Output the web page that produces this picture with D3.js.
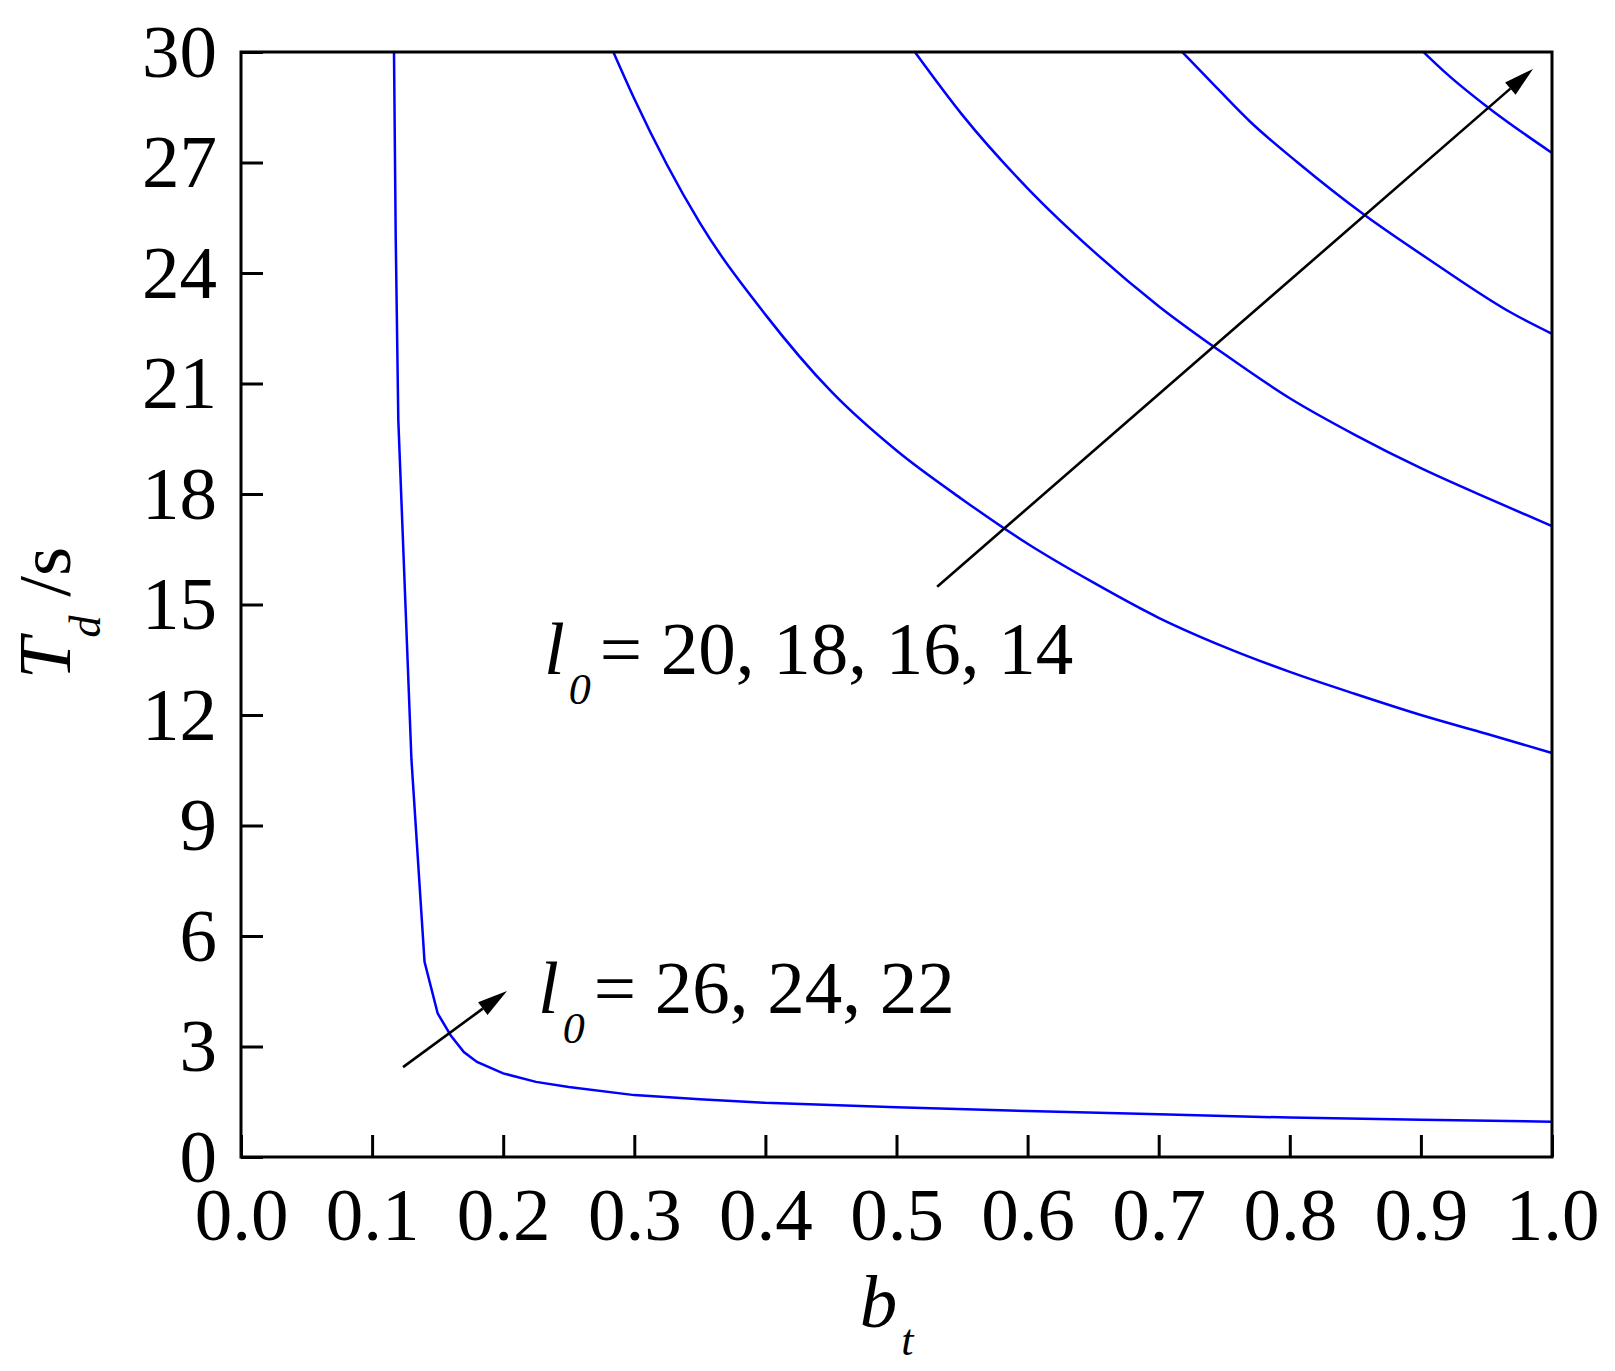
<!DOCTYPE html>
<meta charset="utf-8">
<style>
body { margin: 0; background: #fff; }
text { font-family: "Liberation Serif", "Times New Roman", serif; fill: #000; }
.axis text { font-size: 75px; }
.axis line { stroke: #000; stroke-width: 3px; }
.axis path { display: none; }
.frame { fill: none; stroke: #000; stroke-width: 3px; }
.curve { fill: none; stroke: #0000ff; stroke-width: 2.5px; }
.arrow { stroke: #000; stroke-width: 2.6px; fill: none; }
</style>
<body>
<script src="https://d3js.org/d3.v7.min.js"></script>
<script>

// values: [b_t, T_d]
var l0_26_24_22 = [[0.1167,30],[0.118,25],[0.120,20],[0.130,10.8],[0.140,5.3],[0.150,3.9],[0.160,3.3],
  [0.170,2.85],[0.180,2.58],[0.200,2.27],[0.225,2.04],[0.25,1.9],[0.30,1.68],[0.35,1.57],[0.40,1.47],
  [0.50,1.35],[0.60,1.25],[0.70,1.16],[0.80,1.07],[0.90,1.01],[1.0,0.96]];
var l0_20 = [[0.284,30],[0.30,28.73],[0.35,25.36],[0.40,22.87],[0.45,20.79],[0.50,19.18],[0.55,17.86],
  [0.60,16.65],[0.65,15.6],[0.70,14.64],[0.75,13.85],[0.80,13.17],[0.85,12.57],[0.90,12.0],[0.95,11.49],[1.0,10.97]];
var l0_18 = [[0.514,30],[0.55,28.3],[0.60,26.3],[0.65,24.6],[0.70,23.1],[0.75,21.8],[0.80,20.6],
  [0.85,19.6],[0.90,18.7],[0.95,17.9],[1.0,17.13]];
var l0_16 = [[0.718,30],[0.737,29.3],[0.770,28.1],[0.806,27.0],[0.856,25.6],[0.909,24.3],[0.970,22.9],[1.0,22.35]];
var l0_14 = [[0.902,30],[0.920,29.4],[0.951,28.5],[1.0,27.26]];

var xTicks = d3.range(0, 11).map(function(i) { return i / 10; });
var yTicks = d3.range(0, 31, 3);

// annotation arrows and labels, in data units
var arrowBig = [[0.531,15.48],[0.9855,29.54]];
var arrowSmall = [[0.1236,2.44],[0.2029,4.51]];
var labelLow = { b: 0.2265, T: 3.9, text: "= 26, 24, 22" };
var labelHigh = { b: 0.2311, T: 13.1, text: "= 20, 18, 16, 14" };

var width = 1615, height = 1371;
var margin = { left: 241, right: 63, top: 52, bottom: 214 };

var x = d3.scaleLinear().domain([0, 1]).range([margin.left, width - margin.right]);
var y = d3.scaleLinear().domain([0, 30]).range([height - margin.bottom, margin.top]);

var svg = d3.select("body").append("svg")
    .attr("width", width)
    .attr("height", height);

svg.append("defs").append("marker")
    .attr("id", "head")
    .attr("markerUnits", "userSpaceOnUse")
    .attr("markerWidth", 40).attr("markerHeight", 40)
    .attr("viewBox", "-2 -20 40 40")
    .attr("refX", 0).attr("refY", 0)
    .attr("orient", "auto")
  .append("path")
    .attr("d", "M0,-8L30,0L0,8Z")
    .attr("fill", "#000");

svg.append("g")
    .attr("class", "axis")
    .attr("transform", "translate(0," + y(0) + ")")
    .call(d3.axisBottom(x).tickValues(xTicks).tickFormat(d3.format(".1f"))
      .tickSizeInner(-22).tickSizeOuter(0).tickPadding(30));

svg.append("g")
    .attr("class", "axis")
    .attr("transform", "translate(" + x(0) + ",0)")
    .call(d3.axisLeft(y).tickValues(yTicks).tickFormat(d3.format("d"))
      .tickSizeInner(-22).tickSizeOuter(0).tickPadding(24));

var line = d3.line()
    .x(function(d) { return x(d[0]); })
    .y(function(d) { return y(d[1]); });

var smooth = d3.line()
    .curve(d3.curveMonotoneX)
    .x(function(d) { return x(d[0]); })
    .y(function(d) { return y(d[1]); });

svg.append("path")
    .datum(l0_26_24_22)
    .attr("class", "curve")
    .attr("d", line);

svg.append("g")
  .selectAll("path")
  .data([l0_20, l0_18, l0_16, l0_14])
  .enter().append("path")
    .attr("class", "curve")
    .attr("d", smooth);

svg.append("rect")
    .attr("class", "frame")
    .attr("x", x(0)).attr("y", y(30))
    .attr("width", x(1) - x(0))
    .attr("height", y(0) - y(30));

// arrows: shorten the shaft so the head sits on the end
[arrowBig, arrowSmall].forEach(function(a) {
  var x1 = x(a[0][0]), y1 = y(a[0][1]), x2 = x(a[1][0]), y2 = y(a[1][1]);
  var len = Math.hypot(x2 - x1, y2 - y1);
  var k = (len - 30) / len;
  svg.append("line")
      .attr("class", "arrow")
      .attr("x1", x1).attr("y1", y1)
      .attr("x2", x1 + (x2 - x1) * k).attr("y2", y1 + (y2 - y1) * k)
      .attr("marker-end", "url(#head)");
});

function l0Label(lab) {
  var t = svg.append("text")
      .attr("x", x(lab.b)).attr("y", y(lab.T))
      .style("font-size", "75px");
  t.append("tspan").style("font-style", "italic").text("l");
  t.append("tspan").style("font-style", "italic").style("font-size", "44px")
      .attr("dx", 4).attr("dy", 30).text("0");
  t.append("tspan").attr("dx", 9).attr("dy", -30).text(lab.text);
}
l0Label(labelLow);
l0Label(labelHigh);

// axis titles
var xt = svg.append("text")
    .attr("x", (x(0) + x(1)) / 2 - 10)
    .attr("y", 1327)
    .attr("text-anchor", "middle")
    .style("font-size", "75px");
xt.append("tspan").style("font-style", "italic").text("b");
xt.append("tspan").style("font-style", "italic").style("font-size", "44px")
    .attr("dx", 4).attr("dy", 28).text("t");

var yt = svg.append("text")
    .attr("transform", "translate(70,613) rotate(-90)")
    .attr("text-anchor", "middle")
    .style("font-size", "75px");
yt.append("tspan").style("font-style", "italic").text("T");
yt.append("tspan").style("font-style", "italic").style("font-size", "44px")
    .attr("dy", 30).text("d");
yt.append("tspan").attr("dy", -30).text(" /s");

</script>
</body>
